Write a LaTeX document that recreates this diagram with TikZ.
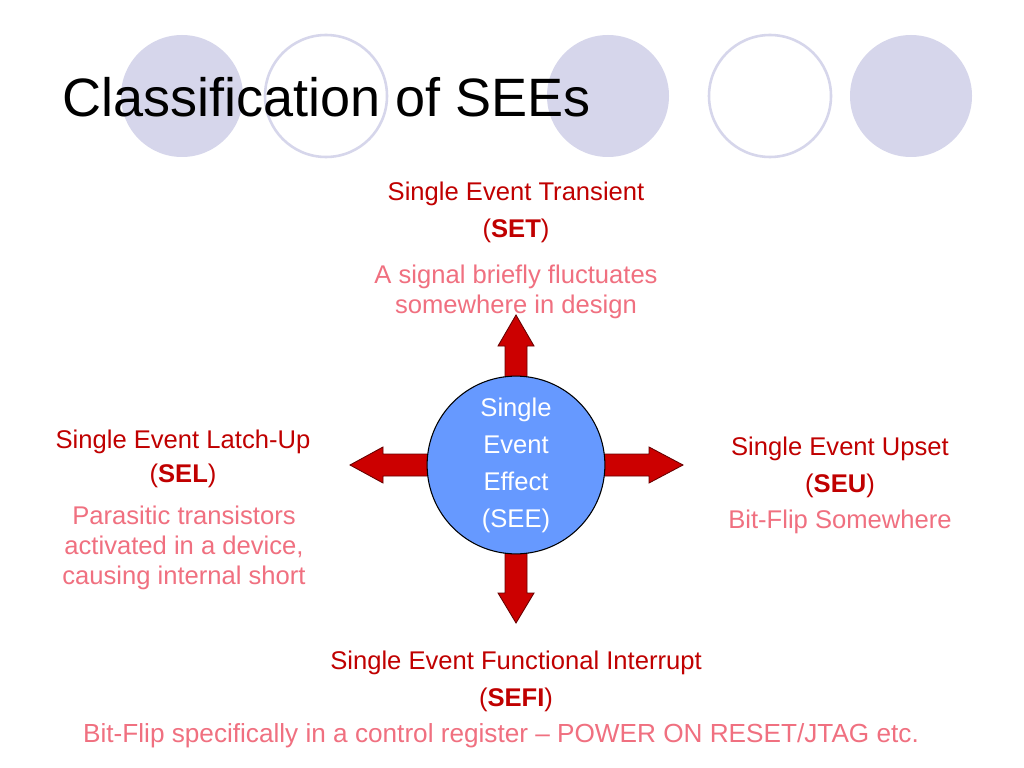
\documentclass[tikz,border=0pt]{standalone}
\usepackage{fontspec}
\setmainfont{Liberation Sans}
\definecolor{dotfill}{RGB}{214,214,235}
\definecolor{headred}{RGB}{192,0,0}
\definecolor{descpink}{RGB}{240,112,128}
\definecolor{seeblue}{RGB}{102,153,255}
\definecolor{arrowred}{RGB}{204,0,0}
\begin{document}
\begin{tikzpicture}[x=0.703125pt, y=-0.703125pt,
   head/.style={text=headred, font=\fontsize{18}{21}\selectfont, anchor=base, inner sep=0pt},
   desc/.style={text=descpink, font=\fontsize{18}{21}\selectfont, anchor=base, inner sep=0pt, align=center},
   dot/.style={fill=dotfill},
   ring/.style={draw=dotfill, line width=1.8pt},
   fatarrow/.style={fill=arrowred, draw=black!60!red, line width=0.6pt}]
   \useasboundingbox [fill=white] (0,0) rectangle (1024,768);
   % dots behind the title
   \fill [dot] (182,96) circle [radius=61];
   \draw [ring] (326,96) circle [radius=61];
   \fill [dot] (608,96) circle [radius=61];
   \draw [ring] (770,96) circle [radius=61];
   \fill [dot] (911,96) circle [radius=61];
   \node [anchor=base west, inner sep=0pt, font=\fontsize{38}{46}\selectfont] (title) at (62,117) {Classification of SEEs};
   % the four fat arrows
   \foreach \ang/\len/\hd in {90/150/31, 270/158/30, 180/166/33, 0/167/34} {
      \begin{scope}[shift={(516,465)}, rotate=\ang]
         \draw [fatarrow] (0,-11) -- (\len-\hd,-11) -- (\len-\hd,-18) -- (\len,0)
            -- (\len-\hd,18) -- (\len-\hd,11) -- (0,11) -- cycle;
         \coordinate (tip\ang) at (\len,0);
      \end{scope}
   }
   \node [circle, draw=black, line width=0.75pt, fill=seeblue, minimum size=125pt, inner sep=0pt,
      text=white, align=center, font=\fontsize{18}{26}\selectfont] (see) at (516,465) {Single\\Event\\Effect\\(SEE)};
   % top
   \node [head] (setname) at (516,201) {Single Event Transient};
   \node [head] (setabbr) at (516,238) {(\textbf{SET})};
   \node [desc] (setdesc) at (516,313) {A signal briefly fluctuates\\somewhere in design};
   % left
   \node [head] (selname) at (183,448) {Single Event Latch-Up};
   \node [head] (selabbr) at (183,482) {(\textbf{SEL})};
   \node [desc] (seldesc) at (184,584) {Parasitic transistors\\activated in a device,\\causing internal short};
   % right
   \node [head] (seuname) at (840,455) {Single Event Upset};
   \node [head] (seuabbr) at (840,492) {(\textbf{SEU})};
   \node [desc] (seudesc) at (840,528) {Bit-Flip Somewhere};
   % bottom
   \node [head] (sefiname) at (516,669) {Single Event Functional Interrupt};
   \node [head] (sefiabbr) at (516,706) {(\textbf{SEFI})};
   \node [desc, font=\fontsize{18.4}{21}\selectfont] (sefidesc) at (501,742) {Bit-Flip specifically in a control register -- POWER ON RESET/JTAG etc.};
\end{tikzpicture}
\end{document}
